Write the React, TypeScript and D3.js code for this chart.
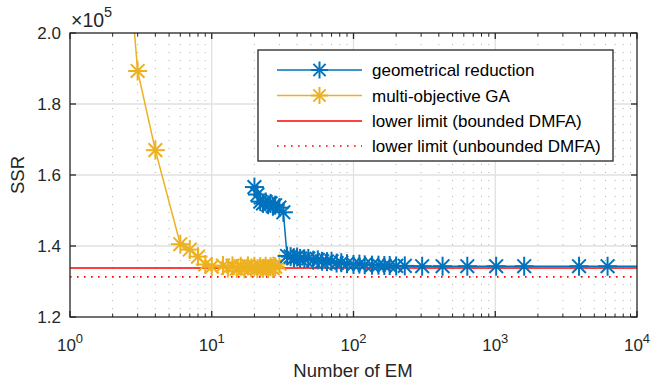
import React from "react";
import * as d3 from "d3";

const geoX = [20, 21, 22, 23, 24, 25, 26, 27, 28, 30, 32, 34, 36, 38, 40, 42, 45, 48, 52, 56, 60, 65, 70, 76, 82, 90, 100, 110, 120, 135, 150, 165, 180, 200, 230, 305, 425, 635, 1015, 1600, 3900, 6200, 15000];
const geoY = [1.566, 1.545, 1.525, 1.52, 1.524, 1.516, 1.52, 1.512, 1.515, 1.508, 1.495, 1.372, 1.37, 1.367, 1.369, 1.365, 1.364, 1.365, 1.36, 1.361, 1.357, 1.356, 1.357, 1.352, 1.353, 1.35, 1.348, 1.349, 1.347, 1.346, 1.346, 1.345, 1.345, 1.344, 1.344, 1.343, 1.343, 1.343, 1.343, 1.343, 1.343, 1.343, 1.343];
const gaX = [2, 3, 4, 6, 7, 8, 9, 10, 12, 13, 14, 15, 16, 17, 18, 19, 20, 21, 22, 23, 24, 25, 26, 27, 28, 30];
const gaY = [2.75, 1.893, 1.67, 1.405, 1.39, 1.37, 1.348, 1.342, 1.345, 1.338, 1.344, 1.337, 1.343, 1.336, 1.344, 1.338, 1.343, 1.336, 1.342, 1.337, 1.343, 1.336, 1.342, 1.337, 1.342, 1.35];
const boundedLimit = 1.338;
const unboundedLimit = 1.313;
const yTicks = [1.2, 1.4, 1.6, 1.8, 2.0];
const xTickExps = [0, 1, 2, 3, 4];
const legendLabels = ["geometrical reduction", "multi-objective GA", "lower limit (bounded DMFA)", "lower limit (unbounded DMFA)"];

const BLUE = "#0072BD";
const YEL = "#EDB120";
const RED = "#FF0000";
const AX = "#262626";
const FONT = "'Liberation Sans', Arial, Helvetica, sans-serif";

function Star({ x, y, color, r = 9.5 }: { x: number; y: number; color: string; r?: number }) {
  const d = r * 0.72;
  return (
    <g stroke={color} strokeWidth={2}>
      <line x1={x - r} y1={y} x2={x + r} y2={y} />
      <line x1={x} y1={y - r} x2={x} y2={y + r} />
      <line x1={x - d} y1={y - d} x2={x + d} y2={y + d} />
      <line x1={x - d} y1={y + d} x2={x + d} y2={y - d} />
    </g>
  );
}

export default function App() {
  const L = 70, R = 637, T = 33, B = 317;
  const x = d3.scaleLog().domain([1, 10000]).range([L, R]);
  const y = d3.scaleLinear().domain([1.2, 2.0]).range([B, T]);
  const line = d3.line<[number, number]>().x((d) => x(d[0])).y((d) => y(d[1]));
  const geo: [number, number][] = geoX.map((v, i) => [v, geoY[i]]);
  const ga: [number, number][] = gaX.map((v, i) => [v, gaY[i]]);
  const minors: number[] = [];
  for (let e = 0; e < 4; e++) for (let m = 2; m <= 9; m++) minors.push(m * Math.pow(10, e));

  const inside = (p: [number, number]) => p[0] >= 1 && p[0] <= 10000 && p[1] >= 1.2 && p[1] <= 2.0;

  const lx = 258, ly = 50, lw = 355, lh = 111;
  const rows = [70, 95.5, 121, 146];

  return (
    <svg width={652} height={382} style={{ position: "absolute", left: 0, top: 0, fontFamily: FONT }}>
      <defs>
        <clipPath id="plot">
          <rect x={L} y={T} width={R - L} height={B - T} />
        </clipPath>
      </defs>
      <rect x={L} y={T} width={R - L} height={B - T} fill="#fff" />
      {minors.map((m) => (
        <line key={"mg" + m} x1={x(m)} x2={x(m)} y1={T} y2={B} stroke="#b0b0b0" strokeWidth={1} strokeDasharray="1 7" strokeDashoffset={-3} />
      ))}
      {[10, 100, 1000].map((v) => (
        <line key={"gx" + v} x1={x(v)} x2={x(v)} y1={T} y2={B} stroke="#e0e0e0" strokeWidth={1.3} />
      ))}
      {[1.4, 1.6, 1.8].map((v) => (
        <line key={"gy" + v} x1={L} x2={R} y1={y(v)} y2={y(v)} stroke="#e0e0e0" strokeWidth={1.3} />
      ))}
      <g clipPath="url(#plot)">
        <line x1={L} x2={R} y1={y(boundedLimit)} y2={y(boundedLimit)} stroke={RED} strokeWidth={1.6} />
        <line x1={L} x2={R} y1={y(unboundedLimit)} y2={y(unboundedLimit)} stroke={RED} strokeWidth={1.6} strokeDasharray="1.6 5.4" />
        <path d={line(ga) || ""} fill="none" stroke={YEL} strokeWidth={1.5} />
        {ga.filter(inside).map((p, i) => (
          <Star key={"ga" + i} x={x(p[0])} y={y(p[1])} color={YEL} />
        ))}
        <path d={line(geo) || ""} fill="none" stroke={BLUE} strokeWidth={1.5} />
        {geo.filter(inside).map((p, i) => (
          <Star key={"geo" + i} x={x(p[0])} y={y(p[1])} color={BLUE} />
        ))}
      </g>
      <rect x={L} y={T} width={R - L} height={B - T} fill="none" stroke={AX} strokeWidth={1.3} />
      {xTickExps.map((e) => {
        const px = x(Math.pow(10, e));
        return (
          <g key={"xt" + e}>
            <line x1={px} x2={px} y1={B} y2={B - 6} stroke={AX} strokeWidth={1.3} />
            <line x1={px} x2={px} y1={T} y2={T + 6} stroke={AX} strokeWidth={1.3} />
            <text x={px} y={351} textAnchor="middle" fontSize={17} fill={AX}>
              10
              <tspan dy={-8} fontSize={13}>{e}</tspan>
            </text>
          </g>
        );
      })}
      {minors.map((m) => (
        <g key={"mt" + m}>
          <line x1={x(m)} x2={x(m)} y1={B} y2={B - 3.5} stroke={AX} strokeWidth={1} />
          <line x1={x(m)} x2={x(m)} y1={T} y2={T + 3.5} stroke={AX} strokeWidth={1} />
        </g>
      ))}
      {yTicks.map((v) => (
        <g key={"yt" + v}>
          <line x1={L} x2={L + 6} y1={y(v)} y2={y(v)} stroke={AX} strokeWidth={1.3} />
          <line x1={R} x2={R - 6} y1={y(v)} y2={y(v)} stroke={AX} strokeWidth={1.3} />
          <text x={61} y={y(v) + 6} textAnchor="end" fontSize={17} fill={AX}>
            {v.toFixed(1)}
          </text>
        </g>
      ))}
      <text x={71} y={27} fontSize={19.5} fill={AX}>
        ×10
        <tspan dy={-10} fontSize={14.5}>5</tspan>
      </text>
      <text x={353} y={377} textAnchor="middle" fontSize={18.5} fill={AX}>Number of EM</text>
      <text transform={`translate(24,${(T + B) / 2}) rotate(-90)`} textAnchor="middle" fontSize={18.5} fill={AX}>SSR</text>
      <rect x={lx} y={ly} width={lw} height={lh} fill="#fff" stroke={AX} strokeWidth={1.3} />
      {legendLabels.map((t, i) => {
        const ry = rows[i];
        const col = i === 0 ? BLUE : i === 1 ? YEL : RED;
        return (
          <g key={"lg" + i}>
            <line x1={277} x2={362} y1={ry} y2={ry} stroke={col} strokeWidth={1.5} strokeDasharray={i === 3 ? "1.6 5.4" : undefined} />
            {i < 2 && <Star x={319.5} y={ry} color={col} r={8.5} />}
            <text x={372} y={ry + 6} fontSize={17} fill="#000">{t}</text>
          </g>
        );
      })}
    </svg>
  );
}
